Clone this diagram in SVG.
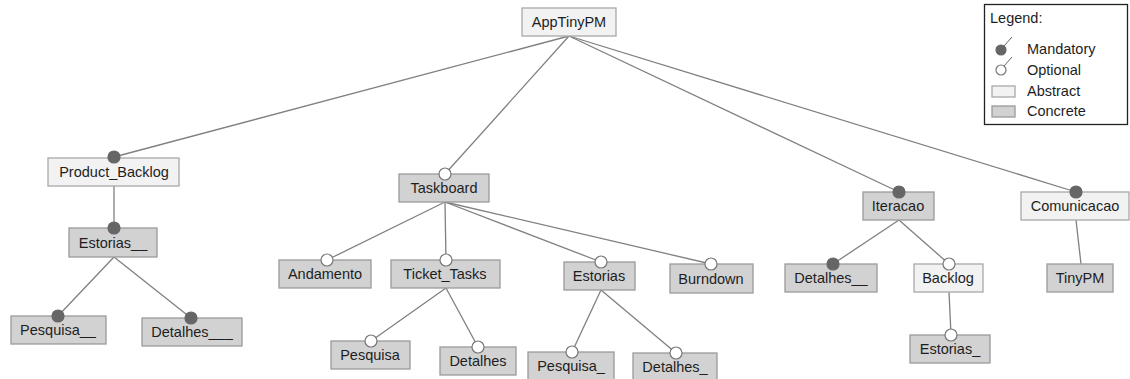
<svg xmlns="http://www.w3.org/2000/svg" width="1130" height="379" viewBox="0 0 1130 379">
<style>
text{font-family:"Liberation Sans",Arial,sans-serif;font-size:14.5px;fill:#1e1e1e}
.n text{text-anchor:middle}
.abs{fill:#f2f2f2;stroke:#a8a8a8;stroke-width:1.3}
.con{fill:#d2d2d2;stroke:#9a9a9a;stroke-width:1.3}
.ln{stroke:#808080;stroke-width:1.3;fill:none}
.man{fill:#666;stroke:#666;stroke-width:1.2}
.opt{fill:#fff;stroke:#777;stroke-width:1.2}
</style>
<rect width="1130" height="379" fill="#fff"/>
<g id="connectors" class="ln">
<line x1="569" y1="36" x2="114" y2="157"/>
<line x1="569" y1="36" x2="445" y2="174"/>
<line x1="569" y1="36" x2="899" y2="192"/>
<line x1="569" y1="36" x2="1076" y2="192"/>
<line x1="114" y1="186" x2="114" y2="228"/>
<line x1="114" y1="257" x2="58" y2="316"/>
<line x1="114" y1="257" x2="191" y2="318"/>
<line x1="445" y1="202" x2="327" y2="260"/>
<line x1="445" y1="202" x2="446" y2="260"/>
<line x1="445" y1="202" x2="601" y2="262"/>
<line x1="445" y1="202" x2="711" y2="264"/>
<line x1="446" y1="288" x2="371" y2="341"/>
<line x1="446" y1="288" x2="478" y2="347"/>
<line x1="601" y1="290" x2="572" y2="352"/>
<line x1="601" y1="290" x2="676" y2="353"/>
<line x1="899" y1="220" x2="833" y2="264"/>
<line x1="899" y1="220" x2="949" y2="264"/>
<line x1="1076" y1="220" x2="1081" y2="264"/>
<line x1="949" y1="292" x2="951" y2="335"/>
</g>
<g id="AppTinyPM" class="n"><rect class="abs" x="522" y="8" width="94" height="28"/><text x="569" y="27">AppTinyPM</text></g>
<g id="Product_Backlog" class="n"><rect class="abs" x="48" y="158" width="131" height="28"/><text x="114" y="177">Product_Backlog</text><circle class="man" cx="114" cy="157" r="6"/></g>
<g id="Estorias__" class="n"><rect class="con" x="69" y="228" width="88" height="29"/><text x="113" y="248">Estorias__</text><circle class="man" cx="114" cy="228" r="6"/></g>
<g id="Pesquisa__" class="n"><rect class="con" x="11" y="316" width="95" height="28"/><text x="58" y="335">Pesquisa__</text><circle class="man" cx="58" cy="316" r="6"/></g>
<g id="Detalhes___" class="n"><rect class="con" x="142" y="318" width="100" height="28"/><text x="192" y="337">Detalhes___</text><circle class="man" cx="191" cy="318" r="6"/></g>
<g id="Taskboard" class="n"><rect class="con" x="399" y="174" width="90" height="28"/><text x="444" y="193">Taskboard</text><circle class="opt" cx="445" cy="174" r="6"/></g>
<g id="Andamento" class="n"><rect class="con" x="279" y="260" width="92" height="28"/><text x="325" y="279">Andamento</text><circle class="opt" cx="327" cy="260" r="6"/></g>
<g id="Ticket_Tasks" class="n"><rect class="con" x="391" y="260" width="109" height="28"/><text x="445" y="279">Ticket_Tasks</text><circle class="opt" cx="446" cy="260" r="6"/></g>
<g id="Pesquisa" class="n"><rect class="con" x="331" y="341" width="79" height="28"/><text x="370" y="360">Pesquisa</text><circle class="opt" cx="371" cy="341" r="6"/></g>
<g id="Detalhes" class="n"><rect class="con" x="440" y="347" width="76" height="28"/><text x="478" y="366">Detalhes</text><circle class="opt" cx="478" cy="347" r="6"/></g>
<g id="Estorias" class="n"><rect class="con" x="564" y="262" width="71" height="28"/><text x="599" y="281">Estorias</text><circle class="opt" cx="601" cy="262" r="6"/></g>
<g id="Pesquisa_" class="n"><rect class="con" x="528" y="352" width="86" height="28"/><text x="571" y="371">Pesquisa_</text><circle class="opt" cx="572" cy="352" r="6"/></g>
<g id="Detalhes_" class="n"><rect class="con" x="633" y="353" width="84" height="28"/><text x="675" y="372">Detalhes_</text><circle class="opt" cx="676" cy="353" r="6"/></g>
<g id="Burndown" class="n"><rect class="con" x="670" y="264" width="83" height="29"/><text x="711" y="284">Burndown</text><circle class="opt" cx="711" cy="264" r="6"/></g>
<g id="Iteracao" class="n"><rect class="con" x="863" y="192" width="71" height="28"/><text x="898" y="211">Iteracao</text><circle class="man" cx="899" cy="192" r="6"/></g>
<g id="Detalhes__" class="n"><rect class="con" x="785" y="264" width="92" height="28"/><text x="831" y="283">Detalhes__</text><circle class="man" cx="833" cy="264" r="6"/></g>
<g id="Backlog" class="n"><rect class="abs" x="914" y="264" width="69" height="28"/><text x="948" y="283">Backlog</text><circle class="opt" cx="949" cy="264" r="6"/></g>
<g id="Estorias_" class="n"><rect class="con" x="910" y="335" width="80" height="28"/><text x="950" y="354">Estorias_</text><circle class="opt" cx="951" cy="335" r="6"/></g>
<g id="Comunicacao" class="n"><rect class="abs" x="1021" y="192" width="108" height="28"/><text x="1075" y="211">Comunicacao</text><circle class="man" cx="1076" cy="192" r="6"/></g>
<g id="TinyPM" class="n"><rect class="con" x="1047" y="264" width="66" height="28"/><text x="1080" y="283">TinyPM</text></g>
<g id="legend">
<rect x="984.5" y="4.5" width="143" height="120" fill="#fff" stroke="#222" stroke-width="1.3"/>
<text x="990" y="23">Legend:</text>
<line x1="1004" y1="46" x2="1012" y2="37" stroke="#666" stroke-width="1"/>
<circle class="man" cx="1001" cy="50" r="5"/>
<text x="1027" y="54">Mandatory</text>
<line x1="1004" y1="66" x2="1012" y2="57" stroke="#666" stroke-width="1"/>
<circle class="opt" cx="1001" cy="70" r="5"/>
<text x="1027" y="75">Optional</text>
<rect class="abs" x="992" y="86" width="23" height="11"/>
<text x="1027" y="96">Abstract</text>
<rect class="con" x="992" y="106" width="23" height="11"/>
<text x="1027" y="116">Concrete</text>
</g>
</svg>
